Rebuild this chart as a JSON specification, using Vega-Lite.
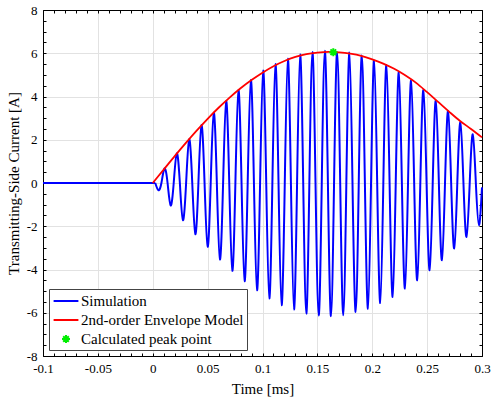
{
  "$schema": "https://vega.github.io/schema/vega-lite/v6.json",
  "width": 439,
  "height": 346,
  "autosize": {"type": "none"},
  "padding": {"left": 43, "top": 10, "right": 11, "bottom": 49},
  "background": "white",
  "config": {
    "font": "Liberation Serif",
    "view": {"stroke": null},
    "style": {"guide-label": {"font": "Liberation Serif", "fill": "black"}, "guide-title": {"font": "Liberation Serif", "fill": "black"}},
    "axis": {
      "domainColor": "black", "domainWidth": 1,
      "tickColor": "black", "tickWidth": 1,
      "labelFont": "Liberation Serif", "labelFontSize": 13, "labelColor": "black",
      "titleFont": "Liberation Serif", "titleFontSize": 15, "titleFontWeight": "normal", "titleColor": "black",
      "gridColor": "#e2e2e2", "gridWidth": 1,
      "labelOverlap": false, "labelFlush": false, "labelBound": false
    },
    "legend": {
      "labelFont": "Liberation Serif", "labelFontSize": 15, "labelColor": "black", "labelLimit": 0
    }
  },
  "datasets": {
    "sim": [
      {"t": -0.1, "v": 0, "seg": "a"},
      {"t": 0.0023, "v": 0, "seg": "a"},
      {"t": 0.0023, "v": 0, "seg": "b"},
      {"t": 0.0051, "v": -0.33, "seg": "b"},
      {"t": 0.0079, "v": 0, "seg": "b"},
      {"t": 0.0107, "v": 0.67, "seg": "b"},
      {"t": 0.0135, "v": 0, "seg": "b"},
      {"t": 0.0163, "v": -1.04, "seg": "b"},
      {"t": 0.0191, "v": 0, "seg": "b"},
      {"t": 0.0219, "v": 1.37, "seg": "b"},
      {"t": 0.0247, "v": 0, "seg": "b"},
      {"t": 0.0275, "v": -1.72, "seg": "b"},
      {"t": 0.0304, "v": 0, "seg": "b"},
      {"t": 0.0332, "v": 2.02, "seg": "b"},
      {"t": 0.0360, "v": 0, "seg": "b"},
      {"t": 0.0388, "v": -2.37, "seg": "b"},
      {"t": 0.0416, "v": 0, "seg": "b"},
      {"t": 0.0444, "v": 2.68, "seg": "b"},
      {"t": 0.0472, "v": 0, "seg": "b"},
      {"t": 0.0500, "v": -2.95, "seg": "b"},
      {"t": 0.0528, "v": 0, "seg": "b"},
      {"t": 0.0556, "v": 3.25, "seg": "b"},
      {"t": 0.0584, "v": 0, "seg": "b"},
      {"t": 0.0612, "v": -3.54, "seg": "b"},
      {"t": 0.0641, "v": 0, "seg": "b"},
      {"t": 0.0669, "v": 3.79, "seg": "b"},
      {"t": 0.0697, "v": 0, "seg": "b"},
      {"t": 0.0725, "v": -4.06, "seg": "b"},
      {"t": 0.0753, "v": 0, "seg": "b"},
      {"t": 0.0781, "v": 4.3, "seg": "b"},
      {"t": 0.0809, "v": 0, "seg": "b"},
      {"t": 0.0837, "v": -4.54, "seg": "b"},
      {"t": 0.0865, "v": 0, "seg": "b"},
      {"t": 0.0894, "v": 4.76, "seg": "b"},
      {"t": 0.0922, "v": 0, "seg": "b"},
      {"t": 0.0950, "v": -4.96, "seg": "b"},
      {"t": 0.0978, "v": 0, "seg": "b"},
      {"t": 0.1006, "v": 5.2, "seg": "b"},
      {"t": 0.1034, "v": 0, "seg": "b"},
      {"t": 0.1062, "v": -5.34, "seg": "b"},
      {"t": 0.1090, "v": 0, "seg": "b"},
      {"t": 0.1118, "v": 5.5, "seg": "b"},
      {"t": 0.1146, "v": 0, "seg": "b"},
      {"t": 0.1174, "v": -5.65, "seg": "b"},
      {"t": 0.1203, "v": 0, "seg": "b"},
      {"t": 0.1231, "v": 5.75, "seg": "b"},
      {"t": 0.1259, "v": 0, "seg": "b"},
      {"t": 0.1287, "v": -5.85, "seg": "b"},
      {"t": 0.1315, "v": 0, "seg": "b"},
      {"t": 0.1343, "v": 5.94, "seg": "b"},
      {"t": 0.1371, "v": 0, "seg": "b"},
      {"t": 0.1399, "v": -6.04, "seg": "b"},
      {"t": 0.1427, "v": 0, "seg": "b"},
      {"t": 0.1455, "v": 6.06, "seg": "b"},
      {"t": 0.1483, "v": 0, "seg": "b"},
      {"t": 0.1512, "v": -6.13, "seg": "b"},
      {"t": 0.1540, "v": 0, "seg": "b"},
      {"t": 0.1568, "v": 6.11, "seg": "b"},
      {"t": 0.1596, "v": 0, "seg": "b"},
      {"t": 0.1624, "v": -6.16, "seg": "b"},
      {"t": 0.1652, "v": 0, "seg": "b"},
      {"t": 0.1680, "v": 6.06, "seg": "b"},
      {"t": 0.1708, "v": 0, "seg": "b"},
      {"t": 0.1736, "v": -6.12, "seg": "b"},
      {"t": 0.1764, "v": 0, "seg": "b"},
      {"t": 0.1792, "v": 6.03, "seg": "b"},
      {"t": 0.1820, "v": 0, "seg": "b"},
      {"t": 0.1849, "v": -5.96, "seg": "b"},
      {"t": 0.1877, "v": 0, "seg": "b"},
      {"t": 0.1905, "v": 5.89, "seg": "b"},
      {"t": 0.1933, "v": 0, "seg": "b"},
      {"t": 0.1961, "v": -5.81, "seg": "b"},
      {"t": 0.1989, "v": 0, "seg": "b"},
      {"t": 0.2017, "v": 5.66, "seg": "b"},
      {"t": 0.2045, "v": 0, "seg": "b"},
      {"t": 0.2073, "v": -5.55, "seg": "b"},
      {"t": 0.2101, "v": 0, "seg": "b"},
      {"t": 0.2129, "v": 5.46, "seg": "b"},
      {"t": 0.2158, "v": 0, "seg": "b"},
      {"t": 0.2186, "v": -5.27, "seg": "b"},
      {"t": 0.2214, "v": 0, "seg": "b"},
      {"t": 0.2242, "v": 5.12, "seg": "b"},
      {"t": 0.2270, "v": 0, "seg": "b"},
      {"t": 0.2298, "v": -4.88, "seg": "b"},
      {"t": 0.2326, "v": 0, "seg": "b"},
      {"t": 0.2354, "v": 4.74, "seg": "b"},
      {"t": 0.2382, "v": 0, "seg": "b"},
      {"t": 0.2410, "v": -4.5, "seg": "b"},
      {"t": 0.2438, "v": 0, "seg": "b"},
      {"t": 0.2466, "v": 4.3, "seg": "b"},
      {"t": 0.2495, "v": 0, "seg": "b"},
      {"t": 0.2523, "v": -4.03, "seg": "b"},
      {"t": 0.2551, "v": 0, "seg": "b"},
      {"t": 0.2579, "v": 3.81, "seg": "b"},
      {"t": 0.2607, "v": 0, "seg": "b"},
      {"t": 0.2635, "v": -3.57, "seg": "b"},
      {"t": 0.2663, "v": 0, "seg": "b"},
      {"t": 0.2691, "v": 3.33, "seg": "b"},
      {"t": 0.2719, "v": 0, "seg": "b"},
      {"t": 0.2747, "v": -3.03, "seg": "b"},
      {"t": 0.2775, "v": 0, "seg": "b"},
      {"t": 0.2803, "v": 2.8, "seg": "b"},
      {"t": 0.2831, "v": 0, "seg": "b"},
      {"t": 0.2859, "v": -2.49, "seg": "b"},
      {"t": 0.2888, "v": 0, "seg": "b"},
      {"t": 0.2916, "v": 2.25, "seg": "b"},
      {"t": 0.2944, "v": 0, "seg": "b"},
      {"t": 0.2972, "v": -1.95, "seg": "b"},
      {"t": 0.3000, "v": -0.2, "seg": "b"}
    ],
    "env": [
      {"t": 0, "v": 0},
      {"t": 0.01, "v": 0.62},
      {"t": 0.02, "v": 1.24},
      {"t": 0.03, "v": 1.84},
      {"t": 0.04, "v": 2.42},
      {"t": 0.05, "v": 2.97},
      {"t": 0.06, "v": 3.48},
      {"t": 0.07, "v": 3.95},
      {"t": 0.08, "v": 4.38},
      {"t": 0.09, "v": 4.76},
      {"t": 0.10, "v": 5.10},
      {"t": 0.11, "v": 5.40},
      {"t": 0.12, "v": 5.64},
      {"t": 0.13, "v": 5.83},
      {"t": 0.14, "v": 5.96},
      {"t": 0.15, "v": 6.03},
      {"t": 0.16, "v": 6.06},
      {"t": 0.17, "v": 6.04},
      {"t": 0.18, "v": 5.98},
      {"t": 0.19, "v": 5.88},
      {"t": 0.20, "v": 5.72},
      {"t": 0.21, "v": 5.52},
      {"t": 0.22, "v": 5.28},
      {"t": 0.23, "v": 4.98},
      {"t": 0.24, "v": 4.63},
      {"t": 0.25, "v": 4.20},
      {"t": 0.26, "v": 3.75},
      {"t": 0.27, "v": 3.30},
      {"t": 0.28, "v": 2.87},
      {"t": 0.29, "v": 2.50},
      {"t": 0.30, "v": 2.11}
    ],
    "peak": [
      {"t": 0.1645, "v": 6.05}
    ]
  },
  "layer": [
    {
      "data": {"name": "sim"},
      "mark": {"type": "line", "interpolate": "natural", "strokeWidth": 2},
      "encoding": {
        "x": {"field": "t", "type": "quantitative", "scale": {"domain": [-0.1, 0.3], "nice": false, "zero": false},
          "axis": {"orient": "bottom", "title": "Time [ms]", "titlePadding": 6, "labelFont": "Liberation Serif", "titleFont": "Liberation Serif",
            "values": [-0.1,-0.09,-0.08,-0.07,-0.06,-0.05,-0.04,-0.03,-0.02,-0.01,0,0.01,0.02,0.03,0.04,0.05,0.06,0.07,0.08,0.09,0.1,0.11,0.12,0.13,0.14,0.15,0.16,0.17,0.18,0.19,0.2,0.21,0.22,0.23,0.24,0.25,0.26,0.27,0.28,0.29,0.3],
            "labelExpr": "abs(datum.value*20-round(datum.value*20))<0.001 ? ((datum.value < -0.0001 ? '-' : '') + format(abs(datum.value), '~g')) : ''",
            "gridOpacity": {"condition": {"test": "abs(datum.value*20-round(datum.value*20))<0.001", "value": 1}, "value": 0},
            "tickSize": -3, "labelPadding": 9}},
        "y": {"field": "v", "type": "quantitative", "scale": {"domain": [-8, 8], "nice": false, "zero": false},
          "axis": {"orient": "left", "title": "Transmitting-Side Current [A]", "titlePadding": 5, "labelFont": "Liberation Serif", "titleFont": "Liberation Serif",
            "values": [-8,-7.5,-7,-6.5,-6,-5.5,-5,-4.5,-4,-3.5,-3,-2.5,-2,-1.5,-1,-0.5,0,0.5,1,1.5,2,2.5,3,3.5,4,4.5,5,5.5,6,6.5,7,7.5,8],
            "labelExpr": "abs(datum.value/2-round(datum.value/2))<0.001 ? ((datum.value < 0 ? '-' : '') + format(abs(datum.value), 'd')) : ''",
            "gridOpacity": {"condition": {"test": "abs(datum.value/2-round(datum.value/2))<0.001", "value": 1}, "value": 0},
            "tickSize": -3, "labelPadding": 9}},
        "detail": {"field": "seg"},
        "color": {"datum": "Simulation", "type": "nominal",
          "scale": {"domain": ["Simulation", "2nd-order Envelope Model", "Calculated peak point"], "range": ["#0000ff", "#ff0000", "#00ee00"]},
          "legend": {"title": null, "orient": "bottom-left", "offset": 6, "padding": 3, "fillColor": "white", "strokeColor": "#444", "symbolSize": 256, "symbolOffset": 5, "labelOffset": 6, "rowPadding": 2, "symbolStrokeWidth": 2, "labelFont": "Liberation Serif", "labelFontSize": 15, "labelLimit": 0}}
      }
    },
    {
      "data": {"name": "env"},
      "mark": {"type": "line", "interpolate": "monotone", "strokeWidth": 1.8},
      "encoding": {
        "x": {"field": "t", "type": "quantitative", "scale": {"domain": [-0.1, 0.3], "nice": false, "zero": false},
          "axis": {"orient": "top", "title": null, "labels": false, "grid": false,
            "values": [-0.1,-0.09,-0.08,-0.07,-0.06,-0.05,-0.04,-0.03,-0.02,-0.01,0,0.01,0.02,0.03,0.04,0.05,0.06,0.07,0.08,0.09,0.1,0.11,0.12,0.13,0.14,0.15,0.16,0.17,0.18,0.19,0.2,0.21,0.22,0.23,0.24,0.25,0.26,0.27,0.28,0.29,0.3],
            "tickSize": -3}},
        "y": {"field": "v", "type": "quantitative", "scale": {"domain": [-8, 8], "nice": false, "zero": false},
          "axis": {"orient": "right", "title": null, "labels": false, "grid": false,
            "values": [-8,-7.5,-7,-6.5,-6,-5.5,-5,-4.5,-4,-3.5,-3,-2.5,-2,-1.5,-1,-0.5,0,0.5,1,1.5,2,2.5,3,3.5,4,4.5,5,5.5,6,6.5,7,7.5,8],
            "tickSize": -3}},
        "color": {"datum": "2nd-order Envelope Model", "type": "nominal"}
      }
    },
    {
      "data": {"name": "peak"},
      "mark": {"type": "point", "filled": false, "strokeWidth": 2, "size": 256, "opacity": 1},
      "encoding": {
        "x": {"field": "t", "type": "quantitative", "axis": null},
        "y": {"field": "v", "type": "quantitative", "axis": null},
        "color": {"datum": "Calculated peak point", "type": "nominal"},
        "shape": {"datum": "Calculated peak point", "type": "nominal",
          "scale": {"domain": ["Simulation", "2nd-order Envelope Model", "Calculated peak point"],
            "range": ["M-1.55,0L1.55,0", "M-1.55,0L1.55,0", "M0,-0.5L0,0.5M-0.5,0L0.5,0M-0.35,-0.35L0.35,0.35M-0.35,0.35L0.35,-0.35"]},
          "legend": {"title": null}}
      }
    }
  ],
  "resolve": {"axis": {"x": "independent", "y": "independent"}}
}
